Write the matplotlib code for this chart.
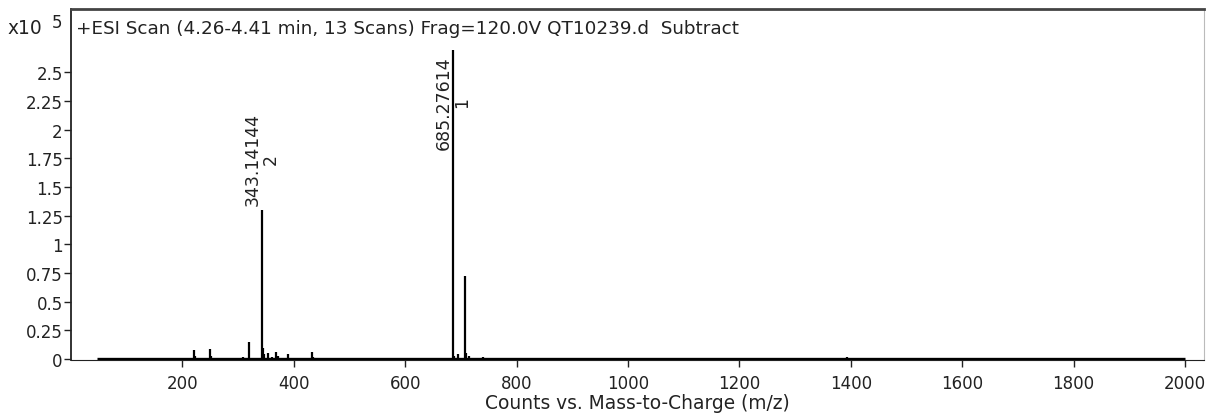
import matplotlib
matplotlib.use('Agg')
import matplotlib.pyplot as plt

# spectrum sticks, intensity in units of 1e5 counts
peak_mz = [221, 223, 250, 252, 308, 319, 343.14144, 344.5, 346, 353, 361, 368, 371, 389, 433, 435,
           685.27614, 687, 694, 707.26, 709, 715, 739, 1393]
peak_int = [0.08, 0.03, 0.09, 0.03, 0.02, 0.15, 1.30, 0.10, 0.04, 0.05, 0.02, 0.06, 0.03, 0.04, 0.06, 0.02,
            2.69, 0.03, 0.04, 0.72, 0.05, 0.03, 0.02, 0.02]
scan_range = [47, 2000]

# labelled peaks: m/z text and charge
label_mz = [343.14144, 685.27614]
label_int = [1.30, 2.69]
label_text = ['343.14144', '685.27614']
label_charge = ['2', '1']

yticks = [0, 0.25, 0.5, 0.75, 1, 1.25, 1.5, 1.75, 2, 2.25, 2.5]
ytick_labels = ['0', '0.25', '0.5', '0.75', '1', '1.25', '1.5', '1.75', '2', '2.25', '2.5']
xticks = [200, 400, 600, 800, 1000, 1200, 1400, 1600, 1800, 2000]

title = '+ESI Scan (4.26-4.41 min, 13 Scans) Frag=120.0V QT10239.d  Subtract'

plt.rcParams['font.family'] = 'DejaVu Sans'
plt.rcParams['font.size'] = 12

fig = plt.figure(figsize=(12.1, 4.14), dpi=100)
ax = fig.add_axes([71 / 1210, 1 - 361 / 414, (1204 - 71) / 1210, (361 - 10) / 414])

ax.hlines(0, scan_range[0], scan_range[1], color='black', lw=2.4, zorder=3)
ax.vlines(peak_mz, 0, peak_int, color='black', lw=1.6, zorder=3)

for mz, h, txt, z in zip(label_mz, label_int, label_text, label_charge):
    if h > 2.0:
        y, va = h - 0.04, 'top'
    else:
        y, va = h + 0.04, 'bottom'
    ax.text(mz, y, txt + '\n' + z, rotation=90, ha='center', va=va, fontsize=12.5,
            multialignment='center', linespacing=1.0, color='#222222')

ax.set_xlim(0, 2034)
ax.set_ylim(-0.008, 3.05)
ax.set_yticks(yticks)
ax.set_yticklabels(ytick_labels)
ax.set_xticks(xticks)
ax.tick_params(axis='both', direction='out', length=5, width=1, colors='#222222', labelcolor='#222222')
ax.tick_params(axis='y', pad=1)
ax.tick_params(axis='x', pad=5)

ax.spines['top'].set_color('#444444')
ax.spines['top'].set_linewidth(2)
ax.spines['left'].set_color('#222222')
ax.spines['left'].set_linewidth(1.3)
ax.spines['right'].set_color('#bbbbbb')
ax.spines['right'].set_linewidth(0.8)
ax.spines['bottom'].set_color('#222222')
ax.spines['bottom'].set_linewidth(0.8)

ax.text(0.004, 0.972, title, transform=ax.transAxes, ha='left', va='top', fontsize=13.2, color='#222222')
ax.set_xlabel('Counts vs. Mass-to-Charge (m/z)', labelpad=1, fontsize=13.4, color='#222222')

fig.text(7 / 1210, 1 - 28 / 414, 'x10', ha='left', va='center', fontsize=13.4, color='#222222')
fig.text(52 / 1210, 1 - 23 / 414, '5', ha='left', va='center', fontsize=12, color='#222222')

fig.savefig('out.png', dpi=100)
